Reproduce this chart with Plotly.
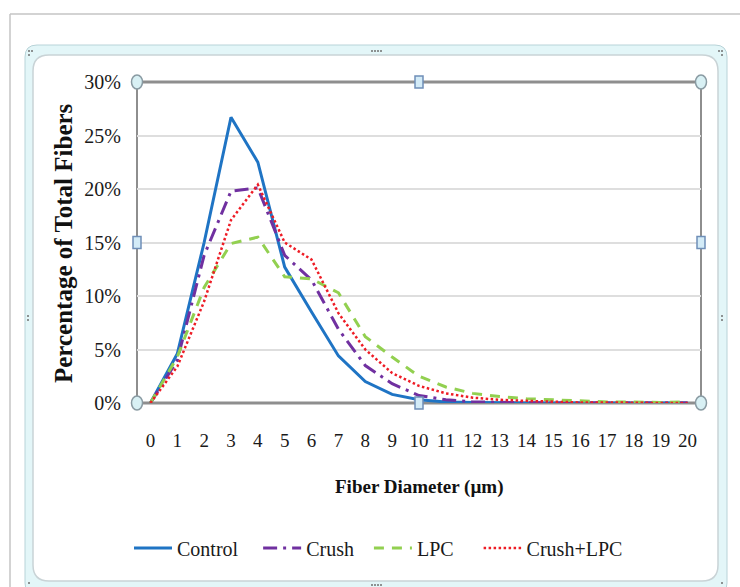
import plotly.graph_objects as go

# ---- data ----
diameters = list(range(21))
tick_labels = [str(d) for d in diameters]
control = [0, 4.6, 15.0, 26.7, 22.5, 12.7, 8.5, 4.4, 2.0, 0.8, 0.3, 0.1, 0.05, 0, 0, 0, 0, 0, 0, 0, 0]
crush = [0, 4.0, 13.8, 19.8, 20.1, 13.8, 11.5, 6.9, 3.5, 1.8, 0.7, 0.3, 0.1, 0.05, 0, 0, 0, 0, 0, 0, 0]
lpc = [0, 4.3, 10.8, 14.9, 15.5, 11.8, 11.6, 10.3, 6.2, 4.3, 2.5, 1.5, 0.9, 0.6, 0.4, 0.3, 0.2, 0.1, 0.1, 0.05, 0.1]
crush_lpc = [0, 3.4, 9.5, 17.1, 20.4, 15.0, 13.4, 8.4, 5.0, 2.8, 1.6, 0.9, 0.5, 0.3, 0.2, 0.1, 0.05, 0.05, 0, 0, 0]
y_ticks = [0, 5, 10, 15, 20, 25, 30]
series_names = ["Control", "Crush", "LPC", "Crush+LPC"]

W, H = 740, 587
L, R, T, B = 137, 701, 82, 403  # plot area in pixels
PW, PH = R - L, B - T


def px(x):
    return (x - L) / PW


def py(y):
    return (B - y) / PH


SERIF = "Liberation Serif, Times New Roman, serif"
NB = "\u00a0"
legend_pad = [3, 2, 4, 0]  # non-breaking spaces to widen legend entries

fig = go.Figure()
fig.add_trace(go.Scatter(x=diameters, y=control, name=series_names[0] + NB * legend_pad[0], mode="lines",
                         line=dict(color="#1f74c4", width=3)))
fig.add_trace(go.Scatter(x=diameters, y=crush, name=series_names[1] + NB * legend_pad[1], mode="lines",
                         line=dict(color="#7030a0", width=3, dash="14px,6px,3px,6px")))
fig.add_trace(go.Scatter(x=diameters, y=lpc, name=series_names[2] + NB * legend_pad[2], mode="lines",
                         line=dict(color="#92d050", width=3, dash="10px,8px")))
fig.add_trace(go.Scatter(x=diameters, y=crush_lpc, name=series_names[3] + NB * legend_pad[3], mode="lines",
                         line=dict(color="#ee1c25", width=2.5, dash="2.5px,2.5px")))

shapes = []
# outer window lines
shapes.append(dict(type="line", xref="paper", yref="paper", x0=px(10), x1=px(740), y0=py(14), y1=py(14),
                   line=dict(color="#c4c4c4", width=1.5), layer="below"))
shapes.append(dict(type="line", xref="paper", yref="paper", x0=px(10), x1=px(10), y0=py(14), y1=py(590),
                   line=dict(color="#c4c4c4", width=1.5), layer="below"))


def rrect(x0, y0, x1, y1, r):
    # rounded rectangle path in paper coords (pixel inputs)
    rx = r / PW
    ry = r / PH
    X0, X1 = px(x0), px(x1)
    Y0, Y1 = py(y0), py(y1)  # Y0 top (larger), Y1 bottom
    return (f"M {X0+rx},{Y0} L {X1-rx},{Y0} Q {X1},{Y0} {X1},{Y0-ry} "
            f"L {X1},{Y1+ry} Q {X1},{Y1} {X1-rx},{Y1} L {X0+rx},{Y1} "
            f"Q {X0},{Y1} {X0},{Y1+ry} L {X0},{Y0-ry} Q {X0},{Y0} {X0+rx},{Y0} Z")


shapes.append(dict(type="path", xref="paper", yref="paper", path=rrect(25, 45, 727, 595, 12),
                   fillcolor="#e3f6f8", line=dict(color="#b8d3d8", width=1), layer="below"))
shapes.append(dict(type="path", xref="paper", yref="paper", path=rrect(33, 55, 718, 581, 16),
                   fillcolor="white", line=dict(color="#c9d3d6", width=1.5), layer="below"))

# selection dots
dots = [(372, 51), (375, 51), (378, 51), (381, 51),
        (29, 51), (32, 51), (29, 55), (719, 51), (722, 51), (722, 55),
        (372, 585), (375, 585), (378, 585), (381, 585),
        (28, 316), (28, 320), (722, 316), (722, 320),
        (29, 583), (722, 583)]
for (dx, dy) in dots:
    shapes.append(dict(type="circle", xref="paper", yref="paper",
                       x0=px(dx - 1), x1=px(dx + 1), y0=py(dy + 1), y1=py(dy - 1),
                       fillcolor="#707070", line=dict(width=0), layer="below"))

# plot area border (selected)
shapes.append(dict(type="line", xref="paper", yref="paper", x0=0, x1=1, y0=1, y1=1,
                   line=dict(color="#8e8e8e", width=3), layer="between"))
shapes.append(dict(type="line", xref="paper", yref="paper", x0=0, x1=1, y0=0, y1=0,
                   line=dict(color="#8e8e8e", width=3), layer="between"))
shapes.append(dict(type="line", xref="paper", yref="paper", x0=0, x1=0, y0=0, y1=1,
                   line=dict(color="#8e8e8e", width=2), layer="between"))
shapes.append(dict(type="line", xref="paper", yref="paper", x0=1, x1=1, y0=0, y1=1,
                   line=dict(color="#8e8e8e", width=2), layer="between"))

# handles: circles at corners
for (hx, hy) in [(L, T), (R, T), (L, B), (R, B)]:
    shapes.append(dict(type="circle", xref="paper", yref="paper",
                       x0=px(hx - 5.5), x1=px(hx + 5.5), y0=py(hy + 7), y1=py(hy - 7),
                       fillcolor="#d8f0f4", line=dict(color="#8a9ba3", width=1.5), layer="above"))
# handles: squares at mid-sides
for (hx, hy) in [((L + R) / 2, T), ((L + R) / 2, B), (L, (T + B) / 2), (R, (T + B) / 2)]:
    shapes.append(dict(type="rect", xref="paper", yref="paper",
                       x0=px(hx - 4), x1=px(hx + 4), y0=py(hy + 6), y1=py(hy - 6),
                       fillcolor="#d3ebf7", line=dict(color="#6f8fb8", width=1.5), layer="above"))

annotations = [
    dict(text="<b>Fiber Diameter (µm)</b>", xref="paper", yref="paper",
         x=px(419), y=py(487), showarrow=False, xanchor="center", yanchor="middle",
         font=dict(family=SERIF, size=19, color="#111111")),
    dict(text="<b>Percentage of Total Fibers</b>", xref="paper", yref="paper",
         x=px(64), y=py(243), showarrow=False, xanchor="center", yanchor="middle",
         textangle=-90, font=dict(family=SERIF, size=25, color="#111111")),
]

fig.update_layout(
    width=W, height=H,
    margin=dict(l=L, r=W - R, t=T, b=H - B, pad=0),
    paper_bgcolor="white", plot_bgcolor="rgba(0,0,0,0)",
    shapes=shapes, annotations=annotations,
    showlegend=True,
    legend=dict(orientation="h", x=px(129), xanchor="left", y=py(548), yanchor="middle",
                font=dict(family=SERIF, size=20, color="#1a1a1a"),
                bgcolor="rgba(0,0,0,0)", tracegroupgap=0, itemwidth=38),
    xaxis=dict(range=[-0.5, 20.5], tickmode="array", tickvals=diameters, ticktext=tick_labels,
               showgrid=False, zeroline=False, showline=False, ticks="",
               ticklabelstandoff=24,
               tickfont=dict(family=SERIF, size=19, color="#1a1a1a"), fixedrange=True),
    yaxis=dict(range=[0, 30], tickmode="array", tickvals=y_ticks,
               ticktext=[f"{v}%" for v in y_ticks],
               showgrid=True, gridcolor="#dedede", gridwidth=2, zeroline=False, showline=False,
               ticks="", ticklabelstandoff=15,
               tickfont=dict(family=SERIF, size=20, color="#1a1a1a"), fixedrange=True),
)

fig.write_html("out.html")
